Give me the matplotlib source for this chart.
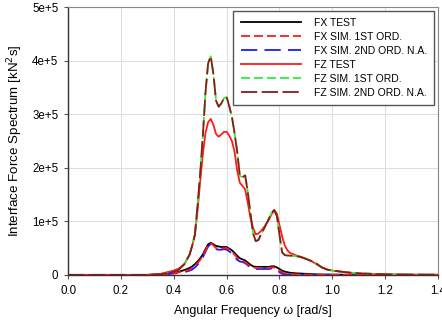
import matplotlib
matplotlib.use("Agg")
import matplotlib.pyplot as plt

plt.rcParams['font.family'] = ['Liberation Sans', 'DejaVu Sans']

# Angular frequency grid [rad/s]
omega = [0.00, 0.30, 0.35, 0.40, 0.42, 0.44, 0.46, 0.47, 0.48, 0.49,
         0.50, 0.51, 0.52, 0.53, 0.54, 0.55, 0.56, 0.57, 0.58, 0.59,
         0.60, 0.61, 0.62, 0.63, 0.64, 0.65, 0.66, 0.67, 0.68, 0.69,
         0.70, 0.71, 0.72, 0.73, 0.74, 0.75, 0.76, 0.77, 0.78, 0.79,
         0.80, 0.81, 0.82, 0.83, 0.84, 0.86, 0.88, 0.90, 0.92, 0.94,
         0.96, 0.98, 1.00, 1.05, 1.10, 1.20, 1.30, 1.40]

# Spectra in units of 1e5 kN^2 s
fx_test = [0.0, 0.0, 0.01, 0.04, 0.06, 0.09, 0.13, 0.16, 0.20, 0.25,
           0.31, 0.38, 0.48, 0.57, 0.60, 0.57, 0.54, 0.53, 0.52, 0.52,
           0.52, 0.49, 0.46, 0.41, 0.36, 0.31, 0.29, 0.27, 0.23, 0.19,
           0.16, 0.15, 0.15, 0.15, 0.15, 0.15, 0.15, 0.16, 0.16, 0.14,
           0.11, 0.08, 0.06, 0.05, 0.04, 0.03, 0.025, 0.02, 0.015, 0.01,
           0.008, 0.006, 0.005, 0.003, 0.002, 0.001, 0.0, 0.0]

fx_sim_1st = [0.0, 0.0, 0.005, 0.03, 0.05, 0.07, 0.10, 0.13, 0.17, 0.22,
              0.28, 0.35, 0.45, 0.55, 0.59, 0.55, 0.50, 0.49, 0.49, 0.50,
              0.50, 0.47, 0.43, 0.38, 0.32, 0.28, 0.26, 0.24, 0.20, 0.16,
              0.14, 0.13, 0.13, 0.13, 0.13, 0.13, 0.13, 0.14, 0.14, 0.12,
              0.08, 0.05, 0.03, 0.02, 0.015, 0.01, 0.008, 0.006, 0.005, 0.004,
              0.003, 0.002, 0.002, 0.001, 0.0, 0.0, 0.0, 0.0]

fx_sim_2nd = [0.0, 0.0, 0.004, 0.025, 0.04, 0.05, 0.08, 0.10, 0.14, 0.19,
              0.25, 0.33, 0.43, 0.53, 0.58, 0.52, 0.48, 0.47, 0.47, 0.48,
              0.47, 0.44, 0.40, 0.34, 0.28, 0.25, 0.24, 0.22, 0.18, 0.14,
              0.12, 0.11, 0.11, 0.11, 0.11, 0.11, 0.11, 0.12, 0.12, 0.10,
              0.05, 0.02, 0.01, 0.008, 0.006, 0.005, 0.004, 0.003, 0.002, 0.002,
              0.001, 0.001, 0.001, 0.0, 0.0, 0.0, 0.0, 0.0]

fz_test = [0.0, 0.0, 0.02, 0.08, 0.12, 0.20, 0.38, 0.55, 0.75, 1.20,
           1.75, 2.25, 2.65, 2.85, 2.91, 2.80, 2.63, 2.58, 2.62, 2.67,
           2.67, 2.60, 2.50, 2.30, 1.95, 1.72, 1.66, 1.60, 1.35, 1.07,
           0.88, 0.76, 0.77, 0.82, 0.88, 0.95, 1.03, 1.13, 1.21, 1.15,
           0.93, 0.72, 0.55, 0.46, 0.41, 0.37, 0.33, 0.30, 0.26, 0.20,
           0.14, 0.10, 0.08, 0.05, 0.02, 0.01, 0.005, 0.003]

fz_sim_1st = [0.0, 0.0, 0.01, 0.06, 0.10, 0.20, 0.38, 0.55, 0.75, 1.30,
              1.90, 2.60, 3.40, 3.95, 4.08, 3.75, 3.25, 3.14, 3.20, 3.30,
              3.32, 3.15, 2.95, 2.65, 2.30, 1.85, 1.82, 1.86, 1.55, 1.15,
              0.78, 0.63, 0.65, 0.75, 0.85, 0.95, 1.05, 1.16, 1.21, 1.10,
              0.75, 0.42, 0.37, 0.36, 0.36, 0.35, 0.34, 0.30, 0.26, 0.21,
              0.14, 0.10, 0.08, 0.05, 0.03, 0.01, 0.005, 0.003]

fz_sim_2nd = [0.0, 0.0, 0.01, 0.06, 0.10, 0.20, 0.38, 0.55, 0.75, 1.30,
              1.90, 2.60, 3.40, 3.95, 4.08, 3.75, 3.25, 3.14, 3.20, 3.30,
              3.32, 3.15, 2.95, 2.65, 2.30, 1.85, 1.82, 1.86, 1.55, 1.15,
              0.78, 0.63, 0.65, 0.75, 0.85, 0.95, 1.05, 1.16, 1.21, 1.10,
              0.75, 0.42, 0.37, 0.36, 0.36, 0.35, 0.34, 0.30, 0.26, 0.21,
              0.14, 0.10, 0.08, 0.05, 0.03, 0.01, 0.005, 0.003]

UNIT = 1e5

x_ticks = [0.0, 0.2, 0.4, 0.6, 0.8, 1.0, 1.2, 1.4]
x_tick_labels = ["0.0", "0.2", "0.4", "0.6", "0.8", "1.0", "1.2", "1.4"]
y_ticks = [0, 1e5, 2e5, 3e5, 4e5, 5e5]
y_tick_labels = ["0", "1e+5", "2e+5", "3e+5", "4e+5", "5e+5"]

fig = plt.figure(figsize=(4.42, 3.20), dpi=100)
ax = fig.add_axes([0.154, 0.141, 0.837, 0.837])


def scaled(vals):
    return [v * UNIT for v in vals]


ax.plot(omega, scaled(fx_test), color='black', lw=1.3, label='FX TEST', zorder=3)
ax.plot(omega, scaled(fx_sim_1st), color='#ff1a1a', lw=1.3, dashes=(5, 2.2),
        label='FX SIM. 1ST ORD.', zorder=4)
ax.plot(omega, scaled(fx_sim_2nd), color='#1a1aff', lw=1.3, dashes=(9, 4),
        label='FX SIM. 2ND ORD. N.A.', zorder=3)
ax.plot(omega, scaled(fz_test), color='#ff1a1a', lw=1.3, label='FZ TEST', zorder=3)
ax.plot(omega, scaled(fz_sim_1st), color='#33ee33', lw=1.3, dashes=(5, 2.2),
        label='FZ SIM. 1ST ORD.', zorder=3)
ax.plot(omega, scaled(fz_sim_2nd), color='#8b1a1a', lw=1.3, dashes=(9, 2.5),
        label='FZ SIM. 2ND ORD. N.A.', zorder=4)

ax.set_xlim(0, 1.4)
ax.set_ylim(0, 5e5)
ax.set_xticks(x_ticks)
ax.set_xticklabels(x_tick_labels)
ax.set_yticks(y_ticks)
ax.set_yticklabels(y_tick_labels)
ax.grid(True, color='#dddddd', lw=0.8)
ax.set_axisbelow(True)
ax.tick_params(labelsize=8.3, length=3, width=0.8, color='#555555', pad=4)

for side in ('left', 'bottom'):
    ax.spines[side].set_color('#333333')
    ax.spines[side].set_linewidth(1.0)
for side in ('top', 'right'):
    ax.spines[side].set_color('#888888')
    ax.spines[side].set_linewidth(0.8)

ax.set_xlabel('Angular Frequency \u03c9 [rad/s]', fontsize=9, labelpad=6)
ax.set_ylabel('Interface Force Spectrum [kN$^2$s]', fontsize=9.6, labelpad=5)

leg = ax.legend(loc='upper right', fontsize=7.5, handlelength=5.8,
                handletextpad=1.25, labelspacing=0.38, borderpad=0.7,
                fancybox=False, framealpha=1, edgecolor='#555555',
                borderaxespad=0.35)
leg.get_frame().set_linewidth(1.0)

fig.savefig('out.png', dpi=100)
